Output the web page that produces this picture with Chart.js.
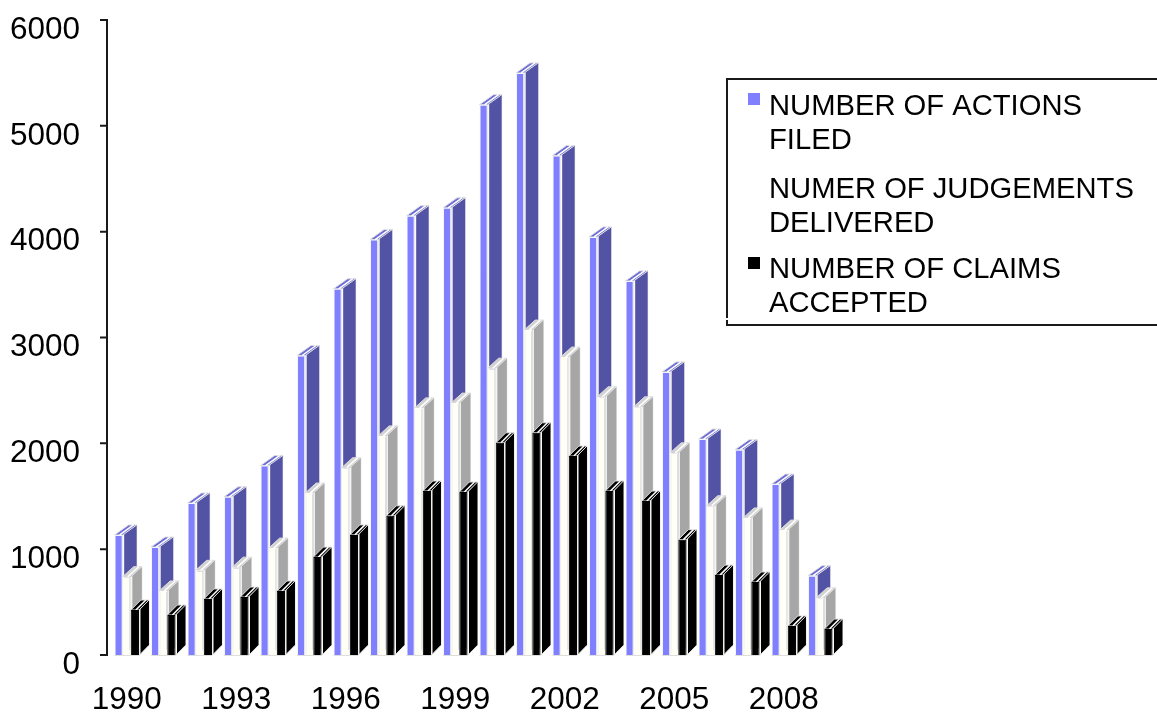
<!DOCTYPE html>
<html>
<head>
<meta charset="utf-8">
<title>Actions filed, judgements delivered and claims accepted</title>
<script src="https://cdn.jsdelivr.net/npm/chart.js@4"></script>
<style>
  html, body { margin: 0; padding: 0; background: #fff; }
  canvas { display: block; }
</style>
</head>
<body>
<canvas id="chart" width="1157" height="713"></canvas>
<script>
const years = ['1990','1991','1992','1993','1994','1995','1996','1997','1998','1999','2000','2001','2002','2003','2004','2005','2006','2007','2008','2009'];
const actionsFiled = [1134,1020,1436,1495,1790,2830,3460,3925,4150,4225,5200,5500,4720,3950,3535,2675,2040,1940,1615,750];
const judgementsDelivered = [740,605,800,830,1010,1530,1770,2070,2335,2380,2710,3070,2815,2440,2345,1910,1410,1295,1180,540];
const claimsAccepted = [425,378,530,548,605,925,1135,1315,1550,1540,2005,2100,1880,1550,1455,1090,755,690,275,245];
const legendEntries = [
  { lines: ['NUMBER OF ACTIONS', 'FILED'], swatch: '#8080ff', baselines: [115, 149], boxTop: 93 },
  { lines: ['NUMER OF JUDGEMENTS', 'DELIVERED'], swatch: '#ffffff', baselines: [198, 232], boxTop: 175 },
  { lines: ['NUMBER OF CLAIMS', 'ACCEPTED'], swatch: '#000000', baselines: [278, 312], boxTop: 257 }
];

const FONT = '"Liberation Sans", Arial, sans-serif';
const EDGE = '#dedede';
const SIDE_GAP = 1.5;

// chart.js has no 3d bars, so side and top faces get painted behind each front bar.
// Left column has to be painted first, the default order is the other way round.
const columns3d = {
  id: 'columns3d',
  beforeDatasetsDraw(chart) {
    const ctx = chart.ctx;
    chart.data.datasets.forEach((ds, i) => {
      const dx = ds.depthX, dy = ds.depthY;
      chart.getDatasetMeta(i).data.forEach(bar => {
        const left = bar.x - bar.width / 2;
        const right = bar.x + bar.width / 2;
        const mid = bar.x + 1;
        ctx.save();
        ctx.lineWidth = 1;
        ctx.strokeStyle = EDGE;
        // white strip between front and side
        ctx.beginPath();
        ctx.moveTo(right, bar.y);
        ctx.lineTo(right + dx, bar.y - dy);
        ctx.lineTo(right + dx, bar.base - dy);
        ctx.lineTo(right, bar.base);
        ctx.closePath();
        ctx.fillStyle = '#fffffa';
        ctx.fill();
        ctx.stroke();
        // side
        ctx.beginPath();
        ctx.moveTo(right + SIDE_GAP, bar.y - 1);
        ctx.lineTo(right + dx, bar.y - dy);
        ctx.lineTo(right + dx, bar.base - dy);
        ctx.lineTo(right + SIDE_GAP, bar.base - 1);
        ctx.closePath();
        ctx.fillStyle = ds.sideColor;
        ctx.fill();
        // top, the picture shows a pale stripe running through it
        ctx.beginPath();
        ctx.moveTo(left, bar.y);
        ctx.lineTo(left + dx, bar.y - dy);
        ctx.lineTo(right + dx, bar.y - dy);
        ctx.lineTo(right, bar.y);
        ctx.closePath();
        ctx.fillStyle = ds.topColor;
        ctx.fill();
        ctx.stroke();
        ctx.beginPath();
        ctx.moveTo(mid, bar.y);
        ctx.lineTo(mid + dx, bar.y - dy);
        ctx.strokeStyle = '#ffffff';
        ctx.lineWidth = 1.5;
        ctx.stroke();
        // pale floor line
        ctx.beginPath();
        ctx.moveTo(left, bar.base + 0.5);
        ctx.lineTo(right, bar.base + 0.5);
        ctx.lineTo(right + dx, bar.base - dy + 0.5);
        ctx.strokeStyle = EDGE;
        ctx.lineWidth = 1;
        ctx.stroke();
        ctx.restore();
        bar.draw(ctx);
      });
    });
    return false;
  }
};

// axis line sits a little left of the first category in the original
const valueAxis = {
  id: 'valueAxis',
  afterDraw(chart) {
    const ctx = chart.ctx, y = chart.scales.y;
    const axisX = 107;
    ctx.save();
    ctx.strokeStyle = '#1a1a1a';
    ctx.lineWidth = 2;
    ctx.beginPath();
    ctx.moveTo(axisX, y.top - 1);
    ctx.lineTo(axisX, y.bottom + 1);
    y.ticks.forEach(t => {
      const py = y.getPixelForValue(t.value);
      ctx.moveTo(axisX - 7, py);
      ctx.lineTo(axisX, py);
    });
    ctx.stroke();
    ctx.restore();
  }
};

// wrapped legend in an open ended frame, overlaps the plot like the original
const legendBox = {
  id: 'legendBox',
  afterDraw(chart) {
    const ctx = chart.ctx;
    ctx.save();
    ctx.strokeStyle = '#1a1a1a';
    ctx.lineWidth = 2;
    ctx.beginPath();
    ctx.moveTo(1157, 79);
    ctx.lineTo(727, 79);
    ctx.lineTo(727, 318);
    ctx.moveTo(727, 320);
    ctx.lineTo(727, 325);
    ctx.lineTo(1157, 325);
    ctx.stroke();
    ctx.font = '29.2px ' + FONT;
    ctx.textBaseline = 'alphabetic';
    legendEntries.forEach(entry => {
      ctx.fillStyle = entry.swatch;
      ctx.fillRect(748, entry.boxTop, 12, 12);
      ctx.fillStyle = '#000';
      entry.lines.forEach((line, i) => ctx.fillText(line, 769, entry.baselines[i]));
    });
    ctx.restore();
  }
};

new Chart(document.getElementById('chart'), {
  type: 'bar',
  data: {
    labels: years,
    datasets: [
      {
        label: 'NUMBER OF ACTIONS FILED',
        data: actionsFiled,
        backgroundColor: '#8080ff',
        borderColor: '#f4f4fb',
        borderWidth: 1,
        sideColor: '#5353a5',
        topColor: '#6d6dd8',
        depthX: 14,
        depthY: 10
      },
      {
        label: 'NUMER OF JUDGEMENTS DELIVERED',
        data: judgementsDelivered,
        backgroundColor: '#fffff6',
        borderColor: '#fffff6',
        borderWidth: 1,
        sideColor: '#a6a6a6',
        topColor: '#d2d2d2',
        depthX: 11,
        depthY: 10
      },
      {
        label: 'NUMBER OF CLAIMS ACCEPTED',
        data: claimsAccepted,
        backgroundColor: '#000000',
        borderColor: '#000000',
        borderWidth: 1,
        sideColor: '#000000',
        topColor: '#000000',
        depthX: 10,
        depthY: 10
      }
    ]
  },
  options: {
    responsive: false,
    animation: false,
    layout: { padding: { top: 20, bottom: 0, left: 0, right: 318.5 } },
    datasets: { bar: { barPercentage: 1, categoryPercentage: 0.67 } },
    plugins: { legend: { display: false }, tooltip: { enabled: false } },
    scales: {
      x: {
        afterFit: s => { s.height = 58; s.paddingLeft = 0; s.paddingRight = 0; },
        grid: { display: false, drawTicks: false },
        border: { display: false },
        ticks: {
          padding: 26,
          color: '#000',
          font: { family: FONT, size: 31.5 },
          autoSkip: false,
          maxRotation: 0,
          callback: (v, i) => (i % 3 === 0 ? years[i] : '')
        }
      },
      y: {
        min: 0,
        max: 6000,
        afterFit: s => { s.width = 108.5; s.paddingTop = 0; s.paddingBottom = 0; },
        grid: { display: false, drawTicks: false },
        border: { display: false },
        ticks: {
          stepSize: 1000,
          padding: 28.5,
          labelOffset: 10,
          color: '#000',
          font: { family: FONT, size: 31.5 },
          callback: v => String(v)
        }
      }
    }
  },
  plugins: [columns3d, valueAxis, legendBox]
});
</script>
</body>
</html>
